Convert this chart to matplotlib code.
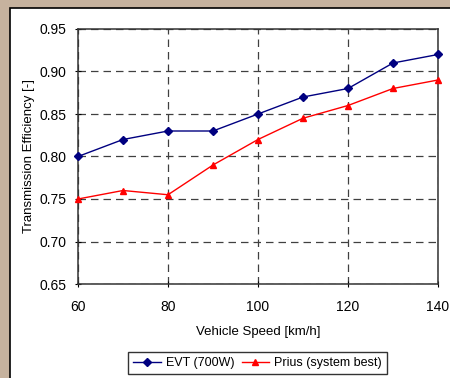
import matplotlib
matplotlib.use("Agg")
import matplotlib.pyplot as plt
from matplotlib.patches import Rectangle

speed = [60, 70, 80, 90, 100, 110, 120, 130, 140]
evt = [0.80, 0.82, 0.83, 0.83, 0.85, 0.87, 0.88, 0.91, 0.92]
prius = [0.75, 0.76, 0.755, 0.79, 0.82, 0.845, 0.86, 0.88, 0.89]
xticks = [60, 80, 100, 120, 140]
yticks = [0.65, 0.70, 0.75, 0.80, 0.85, 0.90, 0.95]


def main():
    plt.rcParams['font.family'] = ['Liberation Sans', 'DejaVu Sans']
    fig = plt.figure(figsize=(4.5, 3.78), dpi=100, facecolor='#c6b29e')
    # white panel with black border
    fig.patches.append(Rectangle((10 / 450, -0.1), 1.1, 1.1 - 8 / 378, transform=fig.transFigure,
                                 facecolor='white', edgecolor='black', linewidth=1.2, zorder=-5))

    ax = fig.add_axes([78 / 450, 1 - 284 / 378, 360 / 450, 255 / 378])
    ax.set_zorder(2)
    ax.set_facecolor('white')
    ax.plot(speed, evt, color='#000080', marker='D', markersize=4, linewidth=1,
            label="EVT (700W)", clip_on=False, zorder=3)
    ax.plot(speed, prius, color='#ff0000', marker='^', markersize=5, linewidth=1,
            label="Prius (system best)", clip_on=False, zorder=3)

    ax.set_xlim(60, 140)
    ax.set_ylim(0.65, 0.95)
    ax.set_xticks(xticks)
    ax.set_yticks(yticks)
    ax.set_yticklabels(["%.2f" % v for v in yticks])
    ax.tick_params(direction='inout', length=5, labelsize=10, colors='black', pad=6)
    ax.tick_params(axis='x', pad=9)
    ax.grid(True, color='#404040', linestyle=(0, (6, 4)), linewidth=0.9)
    for s in ax.spines.values():
        s.set_color('#333333')
        s.set_linewidth(1.1)

    ax.set_xlabel("Vehicle Speed [km/h]", fontsize=9.5, labelpad=9)
    ax.set_ylabel("Transmission Efficiency [-]", fontsize=9.5, labelpad=3)

    leg = fig.legend(loc='upper center', bbox_to_anchor=(0.572, 0.085), ncol=2,
                     fontsize=9, frameon=True, fancybox=False, edgecolor='black',
                     handlelength=2.2, columnspacing=0.6, handletextpad=0.4,
                     borderpad=0.4)
    leg.get_frame().set_linewidth(1)
    leg.set_zorder(3)

    fig.savefig("out.png", dpi=100, facecolor=fig.get_facecolor())


if __name__ == '__main__':
    main()
